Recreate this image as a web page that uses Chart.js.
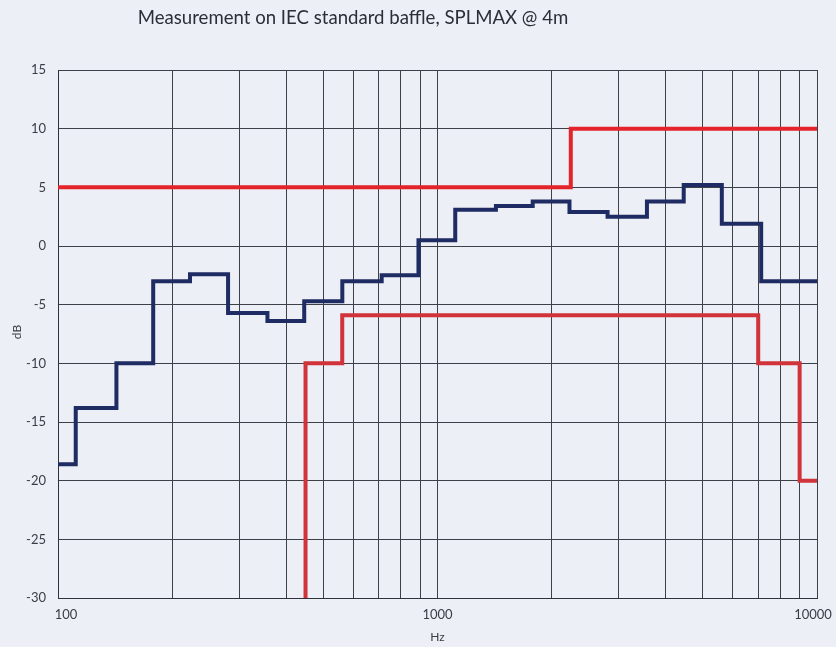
<!DOCTYPE html>
<html>
<head>
<meta charset="utf-8">
<script src="https://cdn.jsdelivr.net/npm/chart.js@4/dist/chart.umd.min.js"></script>
<style>
  html, body { margin: 0; padding: 0; background: #eceff5; }
  canvas { display: block; }
</style>
</head>
<body>
<canvas id="splChart" width="836" height="647"></canvas>
<script>
// third-octave bands and measured SPLMAX (dB)
const bandHz = [100, 125, 160, 200, 250, 315, 400, 500, 630, 800, 1000, 1250, 1600, 2000, 2500, 3150, 4000, 5000, 6300, 8000];
const measuredDb = [-18.6, -13.8, -10.0, -3.0, -2.4, -5.7, -6.4, -4.7, -3.0, -2.5, 0.5, 3.1, 3.4, 3.8, 2.9, 2.5, 3.8, 5.2, 1.9, -3.0];

// limit curves: breakpoints in Hz
const upperLimitHz = [100, 2245, 10000];
const upperLimitDb = [5, 10, 10];
const lowerLimitHz = [449, 561, 7000, 9000, 10000];
const lowerLimitDb = [-40, -10, -5.9, -10, -20];

const xGridHz = [100, 200, 300, 400, 500, 600, 700, 800, 900, 1000, 2000, 3000, 4000, 5000, 6000, 7000, 8000, 9000, 10000];
const xLabelHz = [100, 1000, 10000];
const yMin = -30, yMax = 15, yStep = 5;

const titleText = 'Measurement on IEC standard baffle, SPLMAX @ 4m';
const xTitle = 'Hz';
const yTitle = 'dB';

function bandSteps() {
  const pts = bandHz.map((f, i) => ({ x: f * Math.pow(2, -1 / 6), y: measuredDb[i] }));
  pts.push({ x: 10000, y: measuredDb[measuredDb.length - 1] });
  return pts;
}

function zipPoints(xs, ys) {
  return xs.map((x, i) => ({ x: x, y: ys[i] }));
}

const textPlugin = {
  id: 'texts',
  beforeDraw(chart) {
    const ctx = chart.ctx;
    ctx.save();
    ctx.fillStyle = '#eceff5';
    ctx.fillRect(0, 0, chart.width, chart.height);
    ctx.restore();
  },
  afterDraw(chart) {
    const ctx = chart.ctx;
    const xs = chart.scales.x;
    const area = chart.chartArea;
    ctx.save();
    ctx.fillStyle = '#2a2e38';
    ctx.textAlign = 'center';
    ctx.textBaseline = 'middle';
    ctx.font = '18.6px Lato';
    ctx.fillText(titleText, 353, 18);

    ctx.fillStyle = '#3a3d45';
    ctx.font = '13px Lato';
    xLabelHz.forEach((v, i) => {
      let px = xs.getPixelForValue(v);
      if (i === 0) px += 8;
      if (i === xLabelHz.length - 1) px -= 4;
      ctx.fillText(String(v), px, area.bottom + 17);
    });
    ctx.font = '12px Lato';
    ctx.fillText(xTitle, (area.left + area.right) / 2, area.bottom + 39);

    ctx.translate(17, (area.top + area.bottom) / 2 - 2);
    ctx.rotate(-Math.PI / 2);
    ctx.fillText(yTitle, 0, 0);
    ctx.restore();
  }
};

new Chart(document.getElementById('splChart'), {
  type: 'line',
  data: {
    datasets: [
      {
        label: 'Upper limit',
        data: zipPoints(upperLimitHz, upperLimitDb),
        borderColor: '#e4232b',
        borderWidth: 4,
        stepped: 'before',
        pointRadius: 0,
        fill: false
      },
      {
        label: 'Lower limit',
        data: zipPoints(lowerLimitHz, lowerLimitDb),
        borderColor: '#d03339',
        borderWidth: 4,
        stepped: 'after',
        pointRadius: 0,
        fill: false
      },
      {
        label: 'SPLMAX',
        data: bandSteps(),
        borderColor: '#1f2c63',
        borderWidth: 4,
        stepped: 'before',
        pointRadius: 0,
        fill: false
      }
    ]
  },
  options: {
    responsive: false,
    animation: false,
    layout: { padding: { top: 70, right: 19, left: 0, bottom: 0 } },
    plugins: {
      legend: { display: false },
      tooltip: { enabled: false },
      title: { display: false }
    },
    scales: {
      x: {
        type: 'logarithmic',
        min: 100,
        max: 10000,
        afterBuildTicks: (scale) => { scale.ticks = xGridHz.map(v => ({ value: v })); },
        afterFit: (scale) => { scale.height = 49; },
        ticks: { display: false },
        grid: { color: '#3c4049', lineWidth: 1, drawTicks: false },
        border: { color: '#2e323b', width: 1 }
      },
      y: {
        min: yMin,
        max: yMax,
        afterFit: (scale) => { scale.width = 58; },
        ticks: {
          stepSize: yStep,
          padding: 12,
          color: '#3a3d45',
          font: { family: 'Lato', size: 13 }
        },
        grid: { color: '#3c4049', lineWidth: 1, drawTicks: false },
        border: { color: '#2e323b', width: 1 }
      }
    }
  },
  plugins: [textPlugin]
});
</script>
</body>
</html>
